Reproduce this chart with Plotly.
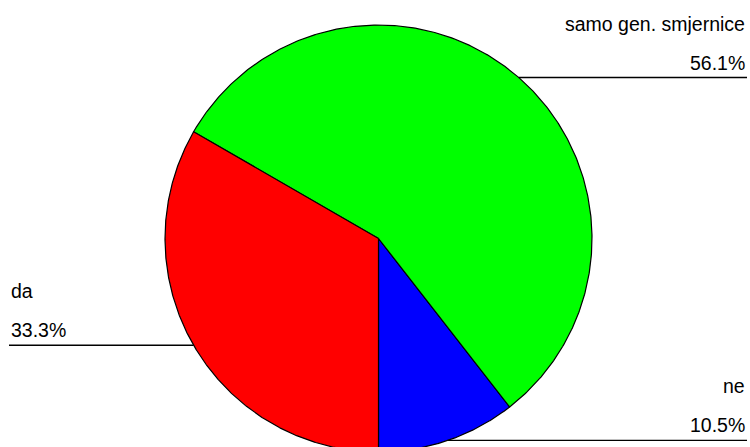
import numpy as np
import plotly.graph_objects as go

# ---- data ----
categories = ["ne", "samo gen. smjernice", "da"]
counts = [6, 32, 19]
colors = ["#0000FF", "#00FF00", "#FF0000"]

# ---- geometry (pixel space) ----
W, H = 750, 447
cx, cy, r = 378.5, 238.5, 213.5
font = dict(family="Liberation Sans, Arial, sans-serif", size=19.5, color="#000000")

total = float(sum(counts))
fracs = [c / total for c in counts]

fig = go.Figure()
start = 0.0
shapes = []
annotations = []
for name, frac, col in zip(categories, fracs, colors):
    a0 = start * 2 * np.pi
    a1 = (start + frac) * 2 * np.pi
    th = np.linspace(a0, a1, 400)
    xs = np.concatenate([[cx], cx + r * np.sin(th), [cx]])
    ys = np.concatenate([[cy], cy + r * np.cos(th), [cy]])
    fig.add_trace(go.Scatter(x=xs, y=ys, mode="lines", fill="toself",
                             fillcolor=col, line=dict(color="#000000", width=1.2),
                             hoverinfo="text", text=name, showlegend=False))
    mid = (a0 + a1) / 2
    px = cx + r * np.sin(mid)
    py = cy + r * np.cos(mid)
    pct = f"{frac * 100:.1f}%"
    if np.sin(mid) >= 0:
        x0, x1, tx, anchor = px, 747, 747, "right"
    else:
        x0, x1, tx, anchor = 9, px, 9, "left"
    shapes.append(dict(type="line", xref="x", yref="y", x0=x0, x1=x1, y0=py, y1=py,
                       line=dict(color="#000000", width=1.3)))
    annotations.append(dict(x=tx, y=py - 54, xref="x", yref="y", text=name,
                            showarrow=False, xanchor=anchor, yanchor="middle", font=font))
    annotations.append(dict(x=tx, y=py - 15, xref="x", yref="y", text=pct,
                            showarrow=False, xanchor=anchor, yanchor="middle", font=font))
    start += frac

fig.update_layout(
    width=W, height=H, margin=dict(l=0, r=0, t=0, b=0),
    paper_bgcolor="#FFFFFF", plot_bgcolor="#FFFFFF",
    xaxis=dict(range=[0, W], visible=False, fixedrange=True),
    yaxis=dict(range=[H, 0], visible=False, fixedrange=True),
    shapes=shapes, annotations=annotations, showlegend=False,
)
fig.write_html("out.html", config={"displayModeBar": False},
               post_script="document.body.style.margin='0';")
